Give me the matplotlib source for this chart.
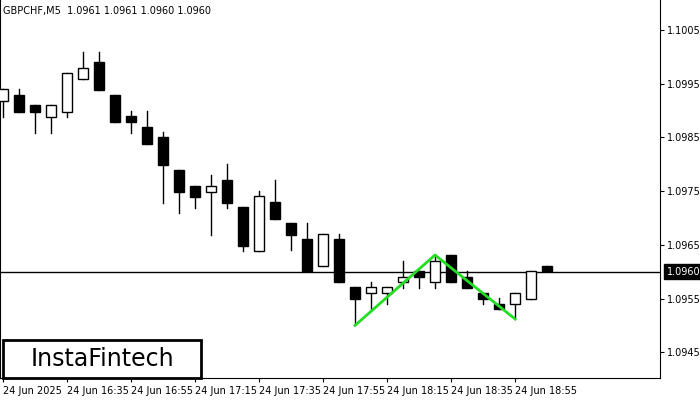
import matplotlib
matplotlib.use("Agg")
import matplotlib.pyplot as plt
from matplotlib.patches import Rectangle

opens  = [1.09918,1.09929,1.09910,1.09888,1.09897,1.09959,1.09990,1.09929,1.09890,1.09869,
          1.09851,1.09789,1.09759,1.09748,1.09771,1.09720,1.09638,1.09730,1.09690,1.09661,
          1.09610,1.09661,1.09571,1.09560,1.09560,1.09581,1.09601,1.09581,1.09631,1.09590,
          1.09560,1.09540,1.09540,1.09549,1.09610]
highs  = [1.09940,1.09940,1.09910,1.09910,1.09970,1.10009,1.10009,1.09929,1.09899,1.09899,
          1.09860,1.09789,1.09759,1.09780,1.09800,1.09720,1.09750,1.09771,1.09690,1.09690,
          1.09670,1.09670,1.09571,1.09581,1.09571,1.09620,1.09601,1.09631,1.09631,1.09601,
          1.09560,1.09551,1.09560,1.09601,1.09610]
lows   = [1.09888,1.09897,1.09858,1.09858,1.09888,1.09959,1.09938,1.09879,1.09858,1.09838,
          1.09728,1.09709,1.09718,1.09668,1.09718,1.09638,1.09638,1.09698,1.09640,1.09601,
          1.09610,1.09581,1.09500,1.09528,1.09540,1.09569,1.09569,1.09569,1.09581,1.09569,
          1.09540,1.09530,1.09512,1.09549,1.09601]
closes = [1.09940,1.09897,1.09897,1.09910,1.09970,1.09979,1.09938,1.09879,1.09879,1.09838,
          1.09798,1.09748,1.09739,1.09759,1.09728,1.09648,1.09741,1.09698,1.09668,1.09601,
          1.09670,1.09581,1.09549,1.09571,1.09571,1.09590,1.09590,1.09620,1.09581,1.09569,
          1.09549,1.09530,1.09560,1.09601,1.09601]
pattern_idx = [22, 27, 32]
pattern_px = [1.09500, 1.09631, 1.09512]
xtick_idx = [0, 4, 8, 12, 16, 20, 24, 28, 32]
xtick_labels = ["24 Jun 2025", "24 Jun 16:35", "24 Jun 16:55", "24 Jun 17:15", "24 Jun 17:35",
                "24 Jun 17:55", "24 Jun 18:15", "24 Jun 18:35", "24 Jun 18:55"]
yticks = [1.1005, 1.0995, 1.0985, 1.0975, 1.0965, 1.0955, 1.0945]
current = 1.0960

fig = plt.figure(figsize=(7, 4), dpi=100)
ax = fig.add_axes([0.0, 0.055, 660/700, 0.945])
ax.set_xlim(-0.19, 41.06)
ax.set_ylim(1.09402, 1.10106)
w = 0.62
for i, (o, h, l, c) in enumerate(zip(opens, highs, lows, closes)):
    ax.plot([i, i], [l, h], color="black", lw=1, zorder=2)
    lo, hi = min(o, c), max(o, c)
    fc = "white" if c >= o else "black"
    ax.add_patch(Rectangle((i - w/2, lo), w, max(hi - lo, 0.00002), facecolor=fc,
                           edgecolor="black", lw=1, zorder=3))
ax.axhline(current, color="black", lw=1, zorder=1)
ax.plot(pattern_idx, pattern_px, color="#22dd22", lw=2, zorder=4)

ax.yaxis.tick_right()
ax.set_yticks(yticks)
ax.set_yticklabels([f"{v:.4f}" for v in yticks], fontsize=7)
ax.set_xticks(xtick_idx)
ax.set_xticklabels(xtick_labels, fontsize=7, ha="left")
ax.tick_params(axis="both", length=3, pad=2)
ax.tick_params(axis="x", pad=3)
ax.spines["top"].set_visible(False)
ax.text(1.01, current, f"{current:.4f}", transform=ax.get_yaxis_transform(), fontsize=7,
        color="white", va="center", ha="left",
        bbox=dict(boxstyle="square,pad=0.25", fc="black", ec="black"))
ax.text(0.005, 0.985, "GBPCHF,M5  1.0961 1.0961 1.0960 1.0960", transform=ax.transAxes,
        fontsize=7, va="top", ha="left")
fig.patches.append(Rectangle((3/700, 1 - 378/400), 198/700, 38/400, transform=fig.transFigure,
                             fc="white", ec="black", lw=2, zorder=10))
fig.text(102/700, 1 - 359/400, "InstaFintech", fontsize=17, va="center", ha="center", zorder=11)
fig.savefig("out.png", dpi=100)
